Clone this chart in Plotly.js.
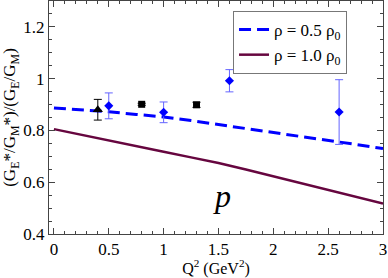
<!DOCTYPE html>
<html><head><meta charset="utf-8">
<script src="https://cdn.plot.ly/plotly-3.0.1.min.js"></script>
<style>html,body{margin:0;padding:0;background:#fff}#plot{width:388px;height:278px}</style>
</head><body><div id="plot"></div>
<script>
// Theory curves
const q2Curve = [0, 0.25, 0.5, 0.75, 1, 1.25, 1.5, 1.75, 2, 2.25, 2.5, 2.75, 3];
const ratioRho05 = [0.887, 0.880, 0.872, 0.862, 0.852, 0.838, 0.823, 0.808, 0.793, 0.778, 0.762, 0.746, 0.730];
const ratioRho10 = [0.805, 0.784, 0.762, 0.740, 0.718, 0.696, 0.674, 0.649, 0.623, 0.597, 0.571, 0.545, 0.518];
// Data points
const triX = [0.4], triY = [0.88], triErr = [0.04];
const diaX = [0.5, 1.0, 1.6, 2.6], diaY = [0.895, 0.87, 0.992, 0.871], diaErr = [0.05, 0.04, 0.043, 0.125];
const sqX = [0.8, 1.3], sqY = [0.901, 0.899], sqErr = [0.004, 0.01];
const legendNames = ['ρ = 0.5 ρ<sub>0</sub>', 'ρ = 1.0 ρ<sub>0</sub>'];
const xTicks = [0, 0.5, 1, 1.5, 2, 2.5, 3], xTickText = ['0', '0.5', '1', '1.5', '2', '2.5', '3'];
const yTicks = [0.4, 0.6, 0.8, 1, 1.2], yTickText = ['0.4', '0.6', '0.8', '1', '1.2'];

const F = 'Times New Roman';
const traces = [
  {x: q2Curve, y: ratioRho05, mode: 'lines', name: legendNames[0],
   line: {color: '#0000ff', width: 3, dash: '12px,6px'}},
  {x: q2Curve, y: ratioRho10, mode: 'lines', name: legendNames[1],
   line: {color: '#66063f', width: 2.5}},
  {x: triX, y: triY, mode: 'markers', showlegend: false,
   marker: {symbol: 'triangle-up', size: 9, color: '#000'},
   error_y: {type: 'data', array: triErr, color: '#000', thickness: 1, width: 4}},
  {x: diaX, y: diaY, mode: 'markers', showlegend: false,
   marker: {symbol: 'diamond', size: 7, color: '#0000ff'},
   error_y: {type: 'data', array: diaErr, color: '#6464ff', thickness: 1, width: 4}},
  {x: sqX, y: sqY, mode: 'markers', showlegend: false,
   marker: {symbol: 'square', size: 7, color: '#000'},
   error_y: {type: 'data', array: sqErr, color: '#000', thickness: 1, width: 4}}
];
const axBase = {showgrid: false, zeroline: false, showline: true, linecolor: '#444', linewidth: 1,
  mirror: 'allticks', ticks: 'inside', ticklen: 6, tickcolor: '#444', tickwidth: 1,
  tickfont: {family: F, size: 17, color: '#000'}};
const layout = {
  width: 388, height: 278,
  margin: {l: 49, r: 5, t: 1, b: 44},
  paper_bgcolor: '#fff', plot_bgcolor: '#fff',
  font: {family: F, color: '#000'},
  showlegend: true,
  legend: {x: 0.551, y: 0.957, xanchor: 'left', yanchor: 'top', bgcolor: '#fff',
    bordercolor: '#777', borderwidth: 1, font: {family: F, size: 17, color: '#000'},
    tracegroupgap: 0},
  xaxis: Object.assign({}, axBase, {range: [-0.045, 3], tickvals: xTicks, ticktext: xTickText,
    minor: {tickvals: [0.1,0.2,0.3,0.4,0.6,0.7,0.8,0.9,1.1,1.2,1.3,1.4,1.6,1.7,1.8,1.9,2.1,2.2,2.3,2.4,2.6,2.7,2.8,2.9], ticks: 'inside', ticklen: 3, tickcolor: '#444', tickwidth: 1},
    title: {text: 'Q<sup>2</sup> (GeV<sup>2</sup>)', font: {family: F, size: 16, color: '#000'}, standoff: 2}}),
  yaxis: Object.assign({}, axBase, {range: [0.4, 1.3], tickvals: yTicks, ticktext: yTickText,
    minor: {tickvals: [0.45,0.5,0.55,0.65,0.7,0.75,0.85,0.9,0.95,1.05,1.1,1.15,1.25], ticks: 'inside', ticklen: 3, tickcolor: '#444', tickwidth: 1},
    title: {text: '(G<sub>E</sub>*/G<sub>M</sub>*)/(G<sub>E</sub>/G<sub>M</sub>)', font: {family: F, size: 17, color: '#000'}, standoff: 3}}),
  annotations: [{x: 1.53, y: 0.548, xref: 'x', yref: 'y', text: '<i>p</i>', showarrow: false,
    font: {family: F, size: 32, color: '#000'}}]
};
Plotly.newPlot('plot', traces, layout, {displayModeBar: false, staticPlot: true});
</script></body></html>
